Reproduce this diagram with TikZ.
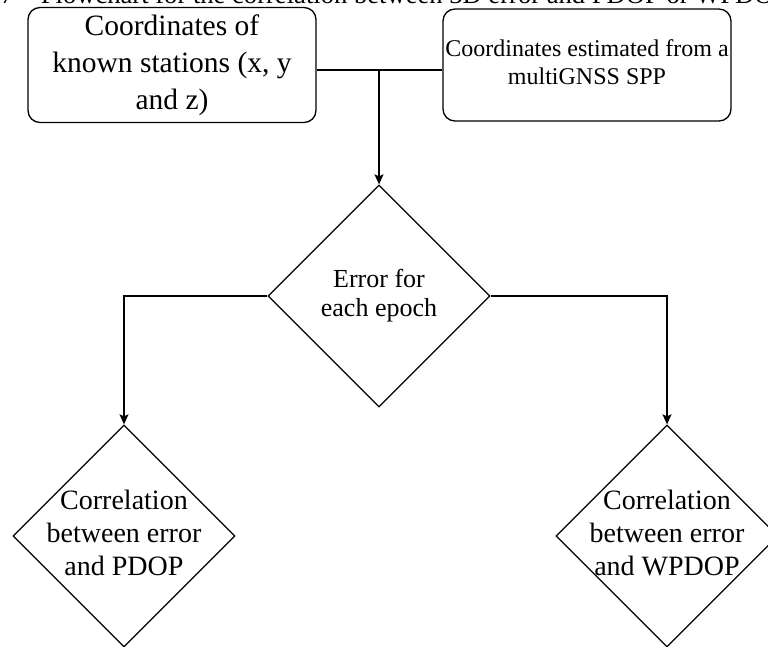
\documentclass[tikz,border=0pt]{standalone}
\usepackage{fontspec}
\setmainfont{Liberation Serif}
\usetikzlibrary{shapes.geometric,arrows.meta}

% text sits a little low in the shapes
\newcommand{\lines}[2][4pt]{\raisebox{-#1}{\begin{tabular}{@{}c@{}}#2\end{tabular}}}

\tikzset{
	box/.style={draw, rounded corners=12pt, line width=1.3pt, minimum width=288pt, minimum height=112pt, inner sep=2pt},
	decision/.style={draw, diamond, line width=1.3pt, minimum width=222pt, minimum height=222pt, inner sep=-40pt},
	flow/.style={line width=1.3pt, -{Stealth[length=10pt,width=9pt,inset=2pt]}}
}

\begin{document}
\begin{tikzpicture}[x=1pt,y=-1pt]
	%\draw[help lines] (0,0) grid (768,646);
	\useasboundingbox (0,0) rectangle (768,646);
	\node[anchor=base west, font=\fontsize{26.6}{30}\selectfont] (caption) at (-3,3) {7\hspace{27pt}Flowchart for the correlation between 3D error and PDOP or WPDOP};
	\node[box, font=\fontsize{29.5}{37}\selectfont] (known) at (172,65) {\lines[7pt]{Coordinates of\\known stations (x, y\\and z)}};
	\node[box, font=\fontsize{24}{28}\selectfont] (spp) at (587,65) {\lines{Coordinates estimated from a\\multiGNSS SPP}};
	\node[decision, font=\fontsize{26}{29}\selectfont] (error) at (379,296) {\lines{Error for\\each epoch}};
	\node[decision, font=\fontsize{28}{33}\selectfont] (pdop) at (124,536) {\lines{Correlation\\between error\\and PDOP}};
	\node[decision, font=\fontsize{28}{33}\selectfont] (wpdop) at (667,536) {\lines{Correlation\\between error\\and WPDOP}};
	\coordinate (join) at (379,70);
	\draw[line width=1.3pt] (known.east |- join) -- (spp.west |- join);
	\draw[flow] (join) -- (error.north);
	\draw[flow] (error.west) -| (pdop.north);
	\draw[flow] (error.east) -| (wpdop.north);
\end{tikzpicture}
\end{document}
